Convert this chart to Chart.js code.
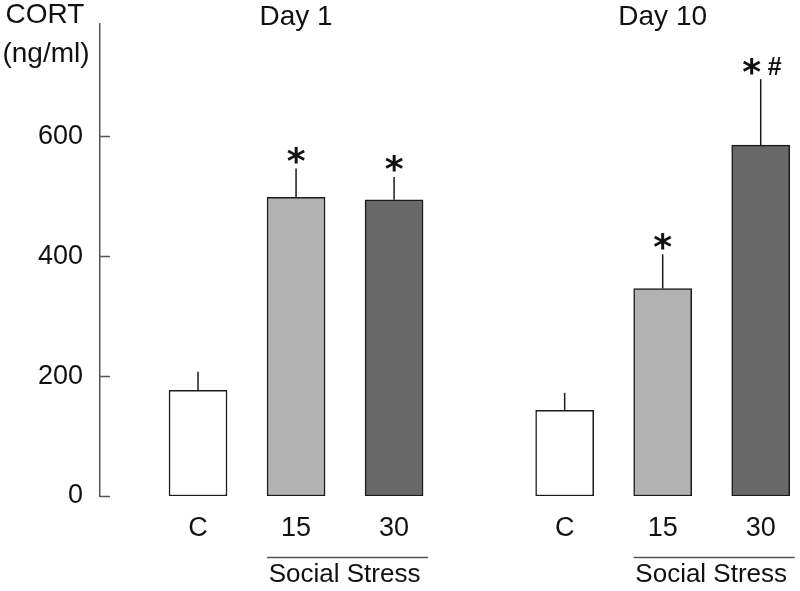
<!DOCTYPE html>
<html>
<head>
<meta charset="utf-8">
<script src="https://cdn.jsdelivr.net/npm/chart.js@4/dist/chart.umd.min.js"></script>
<style>
  body { margin: 0; background: #fff; }
  #cort { display: block; }
</style>
</head>
<body>
<canvas id="cort" width="800" height="591"></canvas>
<script>
// data
const groups = ['Day 1', 'Day 10'];
const doseLabels = ['C', '15', '30', 'C', '15', '30'];
const groupOf = [0, 0, 0, 1, 1, 1];
const xPos = [1, 2, 3, 4.74, 5.74, 6.74];
const cortMean = [176, 498, 494, 143, 346, 585];
const cortErr = [31, 48, 38, 29, 57, 110];
const sigMarks = ['', '*', '*', '', '*', '*#'];
const yTicks = [0, 200, 400, 600];
const stressLabel = 'Social Stress';

const barColors = ['#ffffff', '#b2b2b2', '#686868', '#ffffff', '#b2b2b2', '#686868'];
const FONT = '"Liberation Sans", Arial, sans-serif';
const BAR_W = 58;

const extras = {
    id: 'extras',
    afterDatasetsDraw(chart) {
        const ctx = chart.ctx;
        const x = chart.scales.x;
        const y = chart.scales.y;
        ctx.save();

        // inward ticks on y axis
        ctx.strokeStyle = '#555';
        ctx.lineWidth = 1.5;
        yTicks.forEach((t) => {
            const py = Math.round(y.getPixelForValue(t)) + 0.5;
            ctx.beginPath();
            ctx.moveTo(x.left, py);
            ctx.lineTo(x.left + 10, py);
            ctx.stroke();
        });

        // error bars (upper only) + significance marks
        ctx.strokeStyle = '#1a1a1a';
        ctx.fillStyle = '#111';
        cortMean.forEach((m, i) => {
            const px = x.getPixelForValue(xPos[i]);
            const top = y.getPixelForValue(m + cortErr[i]);
            ctx.beginPath();
            ctx.moveTo(px, y.getPixelForValue(m));
            ctx.lineTo(px, top);
            ctx.stroke();

            const mark = sigMarks[i];
            if (!mark) return;
            const cy = top - 13;
            ctx.textAlign = 'center';
            ctx.textBaseline = 'alphabetic';
            if (mark === '*') {
                drawCentered(ctx, '*', 'bold 36px "DejaVu Sans"', px, cy);
            } else {
                drawCentered(ctx, '*', 'bold 36px "DejaVu Sans"', px - 9, cy);
                drawCentered(ctx, '#', 'bold 25px ' + FONT, px + 14, cy);
            }
        });

        // titles over each group
        ctx.font = '28px ' + FONT;
        ctx.textAlign = 'center';
        ctx.textBaseline = 'middle';
        groups.forEach((g, gi) => {
            const idx = groupOf.indexOf(gi) + 1;
            ctx.fillText(g, x.getPixelForValue(xPos[idx]), 17);
        });

        // y axis title
        ctx.font = '28px ' + FONT;
        ctx.fillText('CORT', 45, 15);
        ctx.fillText('(ng/ml)', 46, 54);

        // social stress brackets
        groups.forEach((g, gi) => {
            const first = groupOf.indexOf(gi);
            const l = x.getPixelForValue(xPos[first + 1]) - BAR_W / 2;
            const r = x.getPixelForValue(xPos[first + 2]) + BAR_W / 2 + 5;
            ctx.strokeStyle = '#555';
            ctx.beginPath();
            ctx.moveTo(l, 557.5);
            ctx.lineTo(r, 557.5);
            ctx.stroke();
            ctx.font = '26px ' + FONT;
            ctx.fillText(stressLabel, (l + r) / 2 - 3, 575);
        });

        ctx.restore();
    }
};

function drawCentered(ctx, s, font, cx, cy) {
    ctx.font = font;
    const m = ctx.measureText(s);
    const asc = m.actualBoundingBoxAscent, desc = m.actualBoundingBoxDescent;
    ctx.fillText(s, cx, cy + (asc - desc) / 2);
}

new Chart(document.getElementById('cort'), {
    type: 'bar',
    data: {
        datasets: [{
            data: cortMean.map((v, i) => ({ x: xPos[i], y: v })),
            backgroundColor: barColors,
            borderColor: '#1a1a1a',
            borderWidth: 1.5,
            borderSkipped: false,
            barThickness: BAR_W
        }]
    },
    options: {
        responsive: false,
        animation: false,
        layout: { padding: { top: 24, right: 4, left: 0, bottom: 0 } },
        plugins: {
            legend: { display: false },
            tooltip: { enabled: false }
        },
        scales: {
            x: {
                type: 'linear',
                min: 0,
                max: 7.1,
                offset: false,
                grid: { display: false, drawTicks: false, tickLength: 0 },
                border: { display: false },
                afterBuildTicks: (scale) => { scale.ticks = xPos.map(v => ({ value: v })); },
                afterFit: (scale) => {
                    scale.height = 95;
                    scale.paddingLeft = 0;
                    scale.paddingRight = 0;
                },
                ticks: {
                    autoSkip: false,
                    maxRotation: 0,
                    padding: 16,
                    color: '#111',
                    font: { family: FONT, size: 27 },
                    callback: (v, i) => doseLabels[i]
                }
            },
            y: {
                min: 0,
                max: 787,
                grid: { display: false, drawTicks: false, tickLength: 0 },
                border: { display: true, color: '#555', width: 1.5 },
                afterBuildTicks: (scale) => { scale.ticks = yTicks.map(v => ({ value: v })); },
                afterFit: (scale) => {
                    scale.width = 100;
                    scale.paddingTop = 0;
                    scale.paddingBottom = 0;
                },
                ticks: {
                    padding: 17,
                    color: '#111',
                    font: { family: FONT, size: 27 }
                }
            }
        }
    },
    plugins: [extras]
});
</script>
</body>
</html>
